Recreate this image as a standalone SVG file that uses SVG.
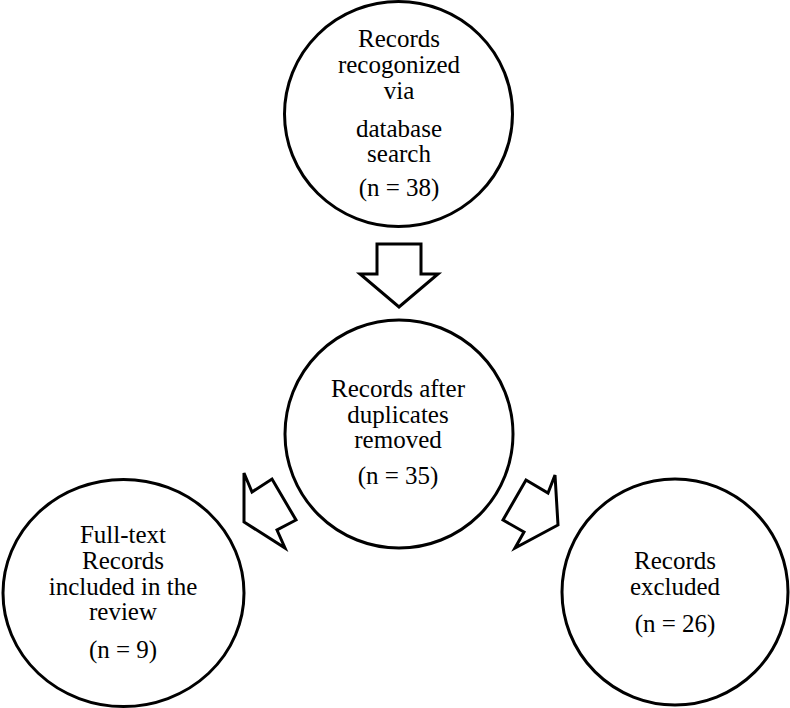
<svg xmlns="http://www.w3.org/2000/svg" width="790" height="708" viewBox="0 0 790 708">
<style>
.node{fill:#fff;stroke:#000;stroke-width:3}
.arr{fill:#fff;stroke:#000;stroke-width:3;stroke-linejoin:miter}
text{font-family:"Liberation Serif","Times New Roman",serif;font-size:25px;fill:#000;text-anchor:middle}
</style>
<rect width="790" height="708" fill="#fff"/>
<g id="connectors">
<polygon class="arr" points="377,244 421,244 421,274 438,274 399,307 360,274 377,274"/>
<polygon class="arr" points="244,473 252,492 272,479 296,520 277,530 285,548 244,522"/>
<polygon class="arr" points="526,480 548,493 555,475 558,525 515,548 524,532 503,520"/>
</g>
<g id="node-search">
<ellipse class="node" cx="398.5" cy="114" rx="114" ry="112.5"/>
<text x="399" y="47">Records</text>
<text x="399" y="73">recogonized</text>
<text x="399" y="99">via</text>
<text x="399" y="137">database</text>
<text x="399" y="162">search</text>
<text x="399" y="196">(n = 38)</text>
</g>
<g id="node-dedup">
<circle class="node" cx="399" cy="434" r="114"/>
<text x="398" y="397">Records after</text>
<text x="398" y="423">duplicates</text>
<text x="398" y="448">removed</text>
<text x="398" y="484">(n = 35)</text>
</g>
<g id="node-included">
<ellipse class="node" cx="123.5" cy="593" rx="120.5" ry="113.5"/>
<text x="123" y="543">Full-text</text>
<text x="123" y="569">Records</text>
<text x="123" y="595">included in the</text>
<text x="123" y="620">review</text>
<text x="123" y="658">(n = 9)</text>
</g>
<g id="node-excluded">
<ellipse class="node" cx="675" cy="592" rx="113" ry="113"/>
<text x="675" y="569">Records</text>
<text x="675" y="595">excluded</text>
<text x="675" y="632">(n = 26)</text>
</g>
</svg>
